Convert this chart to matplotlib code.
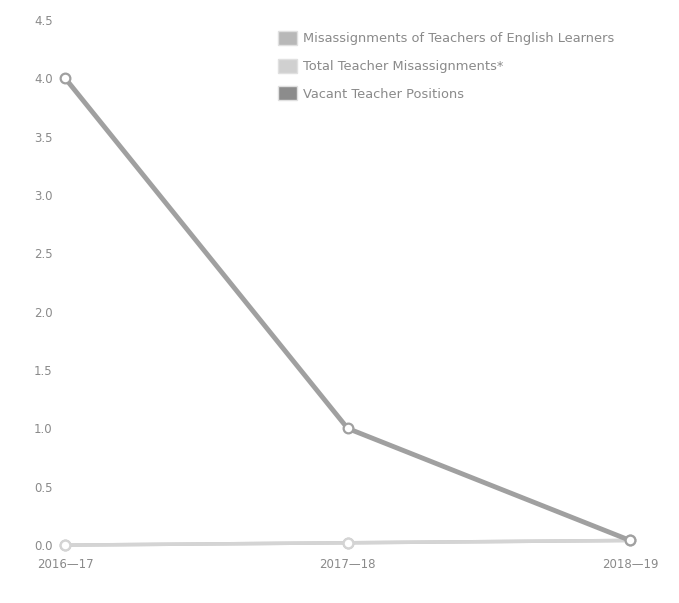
import matplotlib
matplotlib.use("Agg")
import matplotlib.pyplot as plt
from matplotlib.patches import Patch

years = ["2016\u201417", "2017\u201418", "2018\u201419"]
misassign_el = [0.0, 0.02, 0.04]
total_misassign = [0.0, 0.02, 0.04]
vacant = [4.0, 1.0, 0.04]
yticks = [0.0, 0.5, 1.0, 1.5, 2.0, 2.5, 3.0, 3.5, 4.0, 4.5]

labels = ["Misassignments of Teachers of English Learners",
          "Total Teacher Misassignments*",
          "Vacant Teacher Positions"]
line_colors = ["#c8c8c8", "#d4d4d4", "#a0a0a0"]
patch_colors = ["#b8b8b8", "#d0d0d0", "#8c8c8c"]
text_color = "#8a8a8a"

fig = plt.figure(figsize=(6.79, 6.03), dpi=100)
ax = fig.add_axes([0.096, 0.096, 0.832, 0.871])
x = list(range(len(years)))

for series, c, lw in [(misassign_el, line_colors[0], 2.5),
                      (total_misassign, line_colors[1], 2.5),
                      (vacant, line_colors[2], 3.5)]:
    ax.plot(x, series, color=c, lw=lw, marker="o", ms=7,
            markerfacecolor="white", markeredgecolor=c, markeredgewidth=1.6,
            clip_on=False, zorder=3)

ax.set_xlim(0, 2)
ax.set_ylim(0, 4.5)
ax.set_yticks(yticks)
ax.set_yticklabels([f"{v:.1f}" for v in yticks])
ax.set_xticks(x)
ax.set_xticklabels(years)
ax.tick_params(length=0, labelsize=8.5, colors=text_color)
ax.tick_params(axis="y", pad=9)
ax.tick_params(axis="x", pad=9)
for s in ax.spines.values():
    s.set_visible(False)

handles = [Patch(facecolor=c, edgecolor="#e0e0e0", linewidth=1.0) for c in patch_colors]
leg = fig.legend(handles, labels, loc="upper left",
                 bbox_to_anchor=(278 / 679, 1 - 31 / 603),
                 frameon=False, fontsize=9.4, labelcolor=text_color,
                 handlelength=1.45, handleheight=1.3, handletextpad=0.5,
                 labelspacing=1.0, borderaxespad=0, borderpad=0)

fig.savefig("out.png", dpi=100)
